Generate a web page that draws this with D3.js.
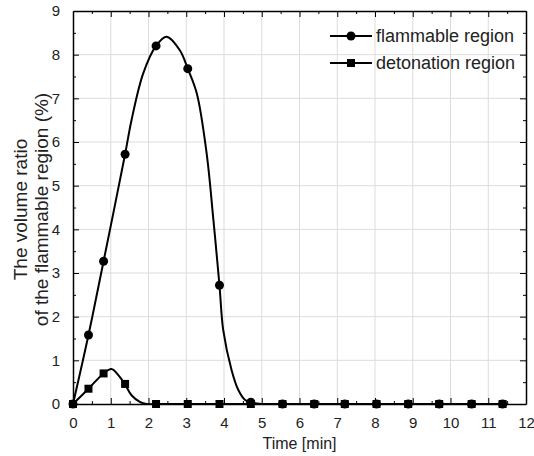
<!DOCTYPE html>
<html>
<head>
<meta charset="utf-8">
<script src="https://cdn.jsdelivr.net/npm/d3@7"></script>
<style>
  body { margin: 0; background: #fff; }
  svg { display: block; font-family: "Liberation Sans", Arial, sans-serif; }
</style>
</head>
<body>
<script>
// marker values
const timeMin = [0, 0.41, 0.81, 1.38, 2.2, 3.04, 3.88, 4.71, 5.55, 6.39, 7.2, 8.04, 8.88, 9.7, 10.56, 11.38];
const flammable = [0, 1.58, 3.27, 5.72, 8.2, 7.68, 2.72, 0.04, 0, 0, 0, 0, 0, 0, 0, 0];
const detonation = [0, 0.35, 0.7, 0.46, 0, 0, 0, 0, 0, 0, 0, 0, 0, 0, 0, 0];

// smoothed line (denser than the markers)
const flamLineT = [0, 0.41, 0.81, 1.38, 1.55, 1.86, 2.2, 2.48, 2.83, 3.04, 3.28, 3.54, 3.72, 3.88, 3.98, 4.2, 4.38, 4.56, 4.71, 5.0, 11.38];
const flamLineV = [0, 1.58, 3.27, 5.72, 6.5, 7.57, 8.2, 8.41, 8.1, 7.68, 7.11, 5.74, 4.21, 2.72, 1.69, 0.78, 0.32, 0.09, 0.03, 0, 0];
const detLineT = [0, 0.41, 0.81, 1.02, 1.2, 1.37, 1.55, 1.77, 1.95, 2.2, 11.38];
const detLineV = [0, 0.35, 0.7, 0.8, 0.66, 0.46, 0.2, 0.05, 0, 0, 0];

const xTicks = [0, 1, 2, 3, 4, 5, 6, 7, 8, 9, 10, 11, 12];
const yTicks = [0, 1, 2, 3, 4, 5, 6, 7, 8, 9];
const seriesNames = ["flammable region", "detonation region"];

const width = 534, height = 456;
const margin = { left: 73, right: 8, top: 11, bottom: 52 };

const svg = d3.select("body").append("svg")
  .attr("width", width).attr("height", height);

const x = d3.scaleLinear().domain([0, 12]).range([margin.left, width - margin.right]);
const y = d3.scaleLinear().domain([0, 9]).range([height - margin.bottom, margin.top]);

const x0 = x.range()[0], x1 = x.range()[1], y0 = y.range()[0], y1 = y.range()[1];

svg.append("defs").append("clipPath").attr("id", "plot")
  .append("rect").attr("x", x0).attr("y", y1).attr("width", x1 - x0).attr("height", y0 - y1);

// grid
const grid = svg.append("g").attr("stroke", "#dcdcdc").attr("stroke-width", 1);
grid.selectAll(".gx").data(xTicks.slice(1, -1)).join("line")
  .attr("x1", d => x(d)).attr("x2", d => x(d)).attr("y1", y0).attr("y2", y1);
grid.selectAll(".gy").data(yTicks.slice(1, -1)).join("line")
  .attr("y1", d => y(d)).attr("y2", d => y(d)).attr("x1", x0).attr("x2", x1);

// axes with inward ticks (major + minor)
const minorX = d3.range(0.5, 12, 1);
const minorY = d3.range(0.5, 9, 1);
const fmt = d3.format("d");

function axis(gen, pos, ticks, minor, labels) {
  const g = svg.append("g").attr("transform", pos);
  g.call(gen.tickValues(ticks).tickSizeInner(-6).tickSizeOuter(0).tickPadding(labels ? 13 : 0)
    .tickFormat(labels ? fmt : () => ""));
  g.selectAll(".tick line").attr("stroke", "#000");
  g.select(".domain").attr("stroke", "#000").attr("stroke-width", 1.5);
  g.selectAll(".tick text").attr("font-size", 15).attr("fill", "#222")
    .attr("font-family", "Liberation Sans, Arial, sans-serif");
  const g2 = svg.append("g").attr("transform", pos);
  g2.call(gen.tickValues(minor).tickSizeInner(-3).tickSizeOuter(0).tickFormat(() => ""));
  g2.select(".domain").remove();
  g2.selectAll(".tick line").attr("stroke", "#000");
  return g;
}
axis(d3.axisBottom(x), `translate(0,${y0})`, xTicks, minorX, true);
axis(d3.axisTop(x), `translate(0,${y1})`, xTicks, minorX, false);
axis(d3.axisLeft(y), `translate(${x0},0)`, yTicks, minorY, true);
axis(d3.axisRight(y), `translate(${x1},0)`, yTicks, minorY, false);

// titles
svg.append("text").attr("x", (x0 + x1) / 2).attr("y", 449).attr("text-anchor", "middle")
  .attr("font-size", 16).attr("fill", "#222").text("Time [min]");
const yt = svg.append("text").attr("transform", `translate(0,${(y0 + y1) / 2 + 2}) rotate(-90)`)
  .attr("text-anchor", "middle").attr("font-size", 19).attr("fill", "#222");
yt.append("tspan").attr("x", 0).attr("y", 27).text("The volume ratio");
yt.append("tspan").attr("x", 0).attr("y", 48).text("of the flammable region (%)");

// curves
const line = d3.line().x(d => x(d[0])).y(d => y(d[1])).curve(d3.curveCatmullRom.alpha(0.5));
const plot = svg.append("g").attr("clip-path", "url(#plot)");
const flLine = flamLineT.map((t, i) => [t, flamLineV[i]]);
const deLine = detLineT.map((t, i) => [t, detLineV[i]]);
plot.append("path").datum(flLine).attr("d", line).attr("fill", "none").attr("stroke", "#000").attr("stroke-width", 2);
plot.append("path").datum(deLine).attr("d", line).attr("fill", "none").attr("stroke", "#000").attr("stroke-width", 2);

const fl = timeMin.map((t, i) => [t, flammable[i]]);
const de = timeMin.map((t, i) => [t, detonation[i]]);
svg.append("g").selectAll("circle").data(fl).join("circle")
  .attr("cx", d => x(d[0])).attr("cy", d => y(d[1])).attr("r", 4.5).attr("fill", "#000");
svg.append("g").selectAll("rect").data(de).join("rect")
  .attr("x", d => x(d[0]) - 4).attr("y", d => y(d[1]) - 4).attr("width", 8).attr("height", 8).attr("fill", "#000");

// legend
const leg = svg.append("g");
seriesNames.forEach((name, i) => {
  const ly = 36 + i * 27;
  leg.append("line").attr("x1", 330).attr("x2", 372).attr("y1", ly).attr("y2", ly)
    .attr("stroke", "#000").attr("stroke-width", 2);
  if (i === 0) leg.append("circle").attr("cx", 351).attr("cy", ly).attr("r", 4.5);
  else leg.append("rect").attr("x", 347).attr("y", ly - 4).attr("width", 8).attr("height", 8);
  leg.append("text").attr("x", 376).attr("y", ly + 6).attr("font-size", 18).attr("fill", "#222").text(name);
});
</script>
</body>
</html>
